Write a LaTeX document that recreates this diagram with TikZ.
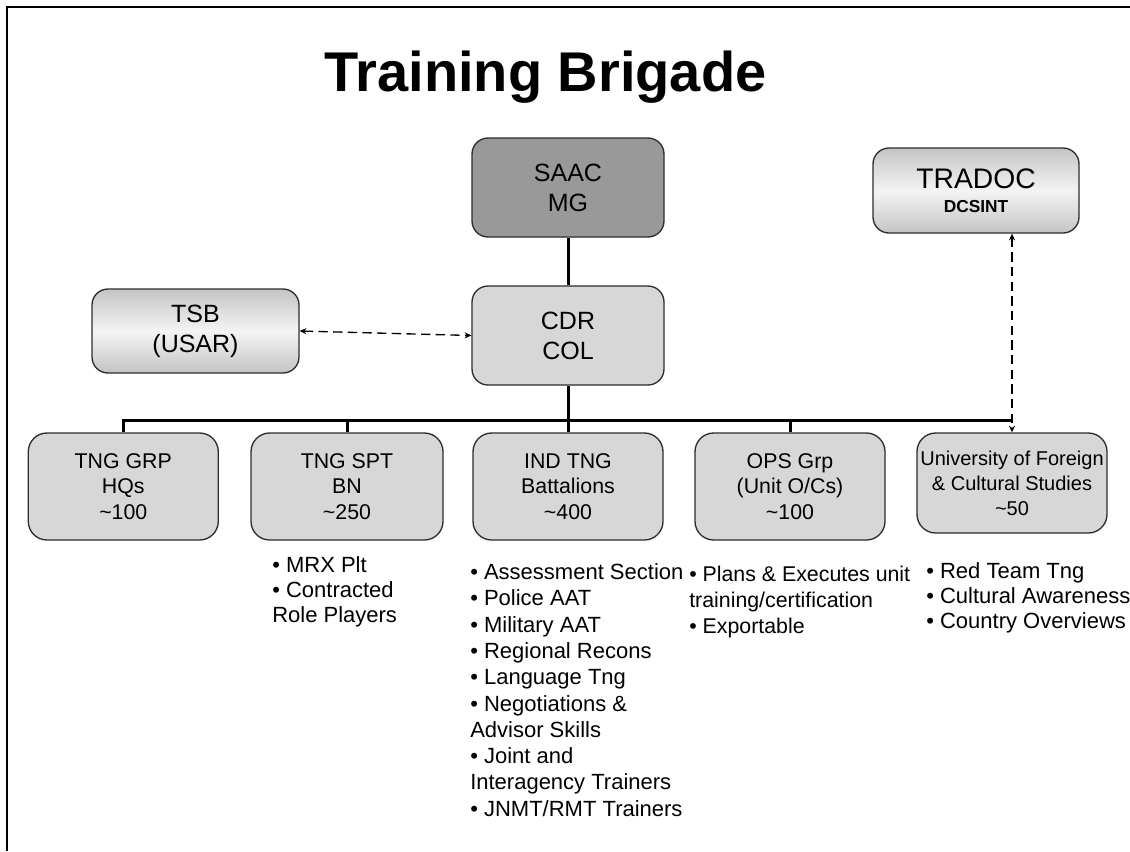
\documentclass[tikz,border=0pt]{standalone}
\usepackage{fontspec}
\setmainfont{Liberation Sans}
\usetikzlibrary{arrows.meta}
\definecolor{boxgray}{RGB}{215,215,215}
\definecolor{darkbox}{RGB}{153,153,153}
\definecolor{shadegray}{RGB}{196,196,196}
\definecolor{shadelight}{RGB}{244,244,244}
\definecolor{edgegray}{RGB}{45,45,45}
\begin{document}
\begin{tikzpicture}[x=0.75pt,y=-0.75pt,
  box/.style={draw=edgegray,line width=1pt,align=center,inner sep=0pt},
  topbox/.style={box,rounded corners=12pt,minimum width=144pt,minimum height=74.25pt,font=\fontsize{18.75}{22.5}\selectfont},
  shadebox/.style={box,rounded corners=12pt,top color=shadegray,bottom color=shadegray,middle color=shadelight},
  lowbox/.style={box,fill=boxgray,rounded corners=14pt,minimum width=142.5pt,minimum height=80.25pt,font=\fontsize{16}{19.1}\selectfont},
  bullets/.style={anchor=north west,align=left,inner sep=0pt,font=\fontsize{16.5}{19.7}\selectfont},
  conn/.style={line width=2.25pt},
  dasharrow/.style={line width=1pt,dash pattern=on 7pt off 4pt,{Stealth[length=5pt,width=4.5pt]}-{Stealth[length=5pt,width=4.5pt]}}
]
\useasboundingbox (0,0) rectangle (1130,851);
% frame
\draw[line width=1.5pt] (6.5,851) -- (6.5,6.5) -- (1130,6.5);
% title
\node[anchor=base,inner sep=0pt,font=\fontsize{42}{50}\selectfont\bfseries] (title) at (545.5,91) {Training Brigade};
% upper boxes
\node[topbox,fill=darkbox] (saac) at (568,187.5) {SAAC\\MG};
\node[topbox,fill=boxgray] (cdr) at (568,335.5) {CDR\\COL};
\node[shadebox,minimum width=155.25pt,minimum height=63pt,font=\fontsize{18.75}{22.5}\selectfont] (tsb) at (195.5,331) {TSB\\(USAR)};
\node[shadebox,minimum width=154.5pt,minimum height=63.75pt,font=\fontsize{21.2}{18}\selectfont] (tradoc) at (976,190.5) {TRADOC\\{\fontsize{13}{18}\selectfont\bfseries DCSINT}};
% lower boxes
\node[lowbox] (grp) at (123.3,486.5) {TNG GRP\\HQs\\\textasciitilde100};
\node[lowbox,minimum width=144pt] (spt) at (347,486.5) {TNG SPT\\BN\\\textasciitilde250};
\node[lowbox] (ind) at (568,486.5) {IND TNG\\Battalions\\\textasciitilde400};
\node[lowbox] (ops) at (790,486.5) {OPS Grp\\(Unit O/Cs)\\\textasciitilde100};
\node[lowbox,minimum height=75pt,font=\fontsize{15}{18.75}\selectfont] (univ) at (1012,483) {University of Foreign\\\& Cultural Studies\\\textasciitilde50};
% connectors
\coordinate (bus) at (568,420);
\draw[conn] (saac.south) -- (cdr.north);
\draw[conn] (cdr.south) -- (ind.north);
\draw[conn] (grp.north) -- (grp.north |- bus) -- (univ.north |- bus);
\draw[conn] (spt.north) -- (spt.north |- bus);
\draw[conn] (ops.north) -- (ops.north |- bus);
\draw[dasharrow] (tsb.east) -- (cdr.west);
\draw[dasharrow] (univ.north |- tradoc.south) -- (univ.north);
% bullet lists
\node[bullets,font=\fontsize{16.5}{18.75}\selectfont] (sptlist) at (272,556) {• MRX Plt\\• Contracted\\Role Players};
\node[bullets] (indlist) at (470,563.5) {• Assessment Section\\• Police AAT\\• Military AAT\\• Regional Recons\\• Language Tng\\• Negotiations \&\\Advisor Skills\\• Joint and\\Interagency Trainers\\• JNMT/RMT Trainers};
\node[bullets,font=\fontsize{16}{19.5}\selectfont] (opslist) at (689,566) {• Plans \& Executes unit\\training/certification\\• Exportable};
\node[bullets,font=\fontsize{16.5}{18.75}\selectfont] (univlist) at (926,562) {• Red Team Tng\\• Cultural Awareness\\• Country Overviews};
\end{tikzpicture}
\end{document}
